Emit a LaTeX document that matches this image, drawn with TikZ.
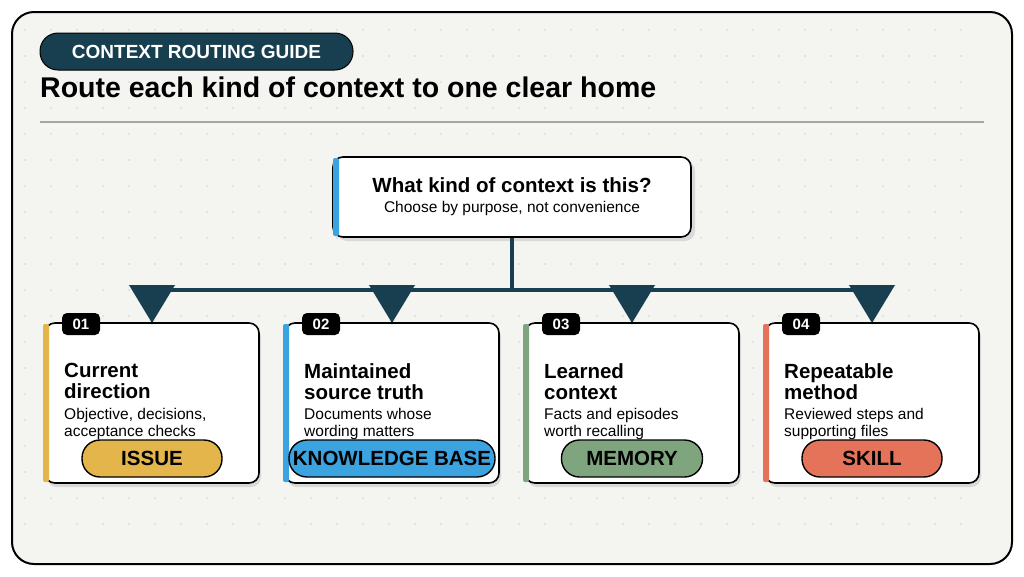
\documentclass[tikz,border=0pt]{standalone}
\usepackage{fontspec}
\setmainfont{Liberation Sans}
\begin{document}
\begin{tikzpicture}[x=1pt,y=-1pt,
  card/.style={draw=black,line width=1.6pt,fill=white,rounded corners=10pt},
  pill/.style={draw=black,line width=1.4pt,rounded corners=18pt,minimum height=37pt,font=\fontsize{20.5}{20}\selectfont\bfseries,inner sep=2pt},
  badge/.style={fill=black,rounded corners=5pt,text=white,font=\fontsize{15}{15}\selectfont\bfseries,minimum width=38pt,minimum height=22pt,inner sep=0pt},
  ttl/.style={anchor=north west,align=left,font=\fontsize{20.5}{21}\selectfont\bfseries},
  dsc/.style={anchor=north west,align=left,font=\fontsize{15.5}{17}\selectfont},
  tri/.style={fill=teal0}]
\definecolor{bg}{HTML}{F4F4F1}
\definecolor{teal0}{HTML}{173F4F}
\definecolor{cy}{HTML}{E3B54A}
\definecolor{cb}{HTML}{3AA3E0}
\definecolor{cg}{HTML}{7FA57F}
\definecolor{co}{HTML}{E5735A}
\useasboundingbox (0,0) rectangle (1024,576);
\fill[white] (0,0) rectangle (1024,576);
\draw[line width=2pt,fill=bg,rounded corners=22pt] (12,12) rectangle (1012,564);
\foreach \i in {0,...,36}{\foreach \j in {0,...,19}{
  \fill[black!18] (25+26*\i,30+26*\j) circle (0.9);}}
\node[fill=teal0,draw=black,line width=1pt,rounded corners=18pt,text=white,font=\fontsize{19}{19}\selectfont\bfseries,minimum width=313pt,minimum height=37pt,inner sep=0pt] (tag) at (196.5,51.5) {CONTEXT ROUTING GUIDE};
\node[anchor=west,font=\fontsize{28.5}{28}\selectfont\bfseries,inner sep=0pt] (title) at (40,87) {Route each kind of context to one clear home};
\draw[black!35,line width=1.2pt] (40,122) -- (984,122);
% question
\fill[black!15,rounded corners=10pt] (337,161) rectangle (695,241);
\node[card,minimum width=358pt,minimum height=80pt,align=center] (q) at (512,197) {};
\fill[cb,rounded corners=2pt] (333,158) rectangle (339,236);
\node[font=\fontsize{20.5}{21}\selectfont\bfseries] (qt) at (512,185) {What kind of context is this?};
\node[font=\fontsize{15.5}{16}\selectfont] (qs) at (512,208) {Choose by purpose, not convenience};
\coordinate (hub) at (512,290);
\coordinate (hl) at (152,290);
\coordinate (hr) at (872,290);
\draw[teal0,line width=3.5pt] (q.south) -- (hub);
\draw[teal0,line width=3.5pt] (hl) -- (hr);
\foreach \n/\x/\c/\t/\d/\p/\w in {
 1/152/cy/{Current\\direction}/{Objective, decisions,\\acceptance checks}/ISSUE/140,
 2/392/cb/{Maintained\\source truth}/{Documents whose\\wording matters}/KNOWLEDGE BASE/206,
 3/632/cg/{Learned\\context}/{Facts and episodes\\worth recalling}/MEMORY/141,
 4/872/co/{Repeatable\\method}/{Reviewed steps and\\supporting files}/SKILL/140}{
  \fill[tri] (\x-23,285) -- (\x+23,285) -- (\x,323) -- cycle;
  \fill[black!15,rounded corners=10pt] (\x-105,327) rectangle (\x+109,487);
  \node[card,minimum width=214pt,minimum height=160pt] (c\n) at (\x,403) {};
  \fill[\c,rounded corners=2pt] (\x-109,324) rectangle (\x-103,482);
  \node[badge] (b\n) at (\x-71,324) {0\n};
  \node[ttl,inner sep=0pt] (t\n) at (\x-88,363) {\t};
  \node[dsc,inner sep=0pt] (d\n) at (\x-88,408) {\d};
  \node[pill,fill=\c,minimum width=\w pt] (p\n) at (\x,458.5) {\p};
}
\end{tikzpicture}
\end{document}
